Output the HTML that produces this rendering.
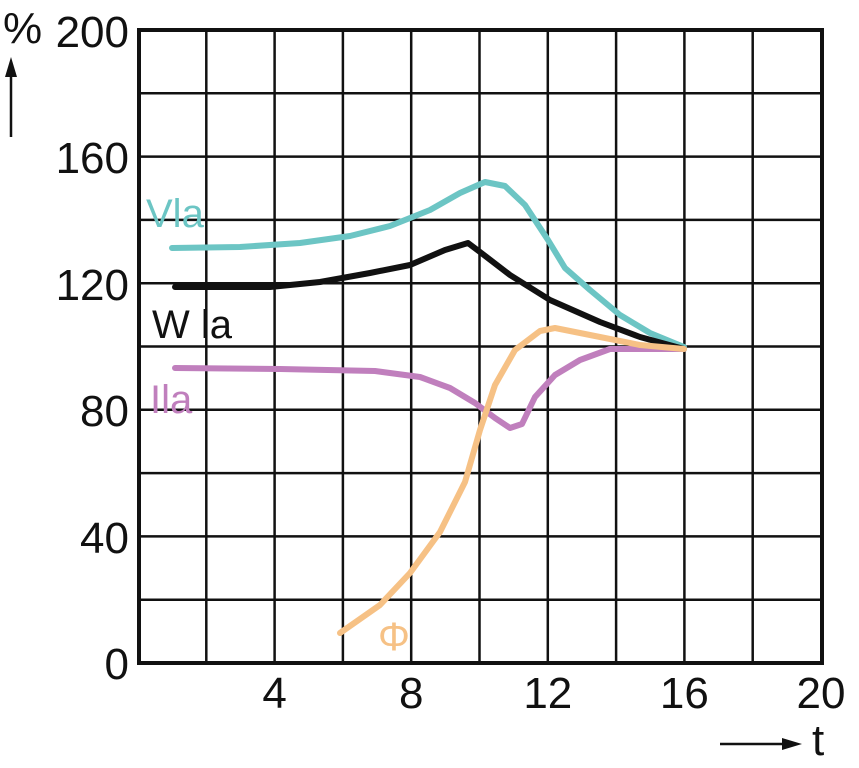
<!DOCTYPE html>
<html><head><meta charset="utf-8"><style>body{margin:0;background:#fff}svg{display:block}text{font-family:"Liberation Sans",sans-serif}</style></head>
<body>
<svg width="859" height="768" viewBox="0 0 859 768">
<g stroke="#111" stroke-width="2.5">
<line x1="206.3" y1="30" x2="206.3" y2="663"/><line x1="274.6" y1="30" x2="274.6" y2="663"/><line x1="342.9" y1="30" x2="342.9" y2="663"/><line x1="411.2" y1="30" x2="411.2" y2="663"/><line x1="479.5" y1="30" x2="479.5" y2="663"/><line x1="547.8" y1="30" x2="547.8" y2="663"/><line x1="616.1" y1="30" x2="616.1" y2="663"/><line x1="684.4" y1="30" x2="684.4" y2="663"/><line x1="752.7" y1="30" x2="752.7" y2="663"/>
<line x1="139" y1="93.3" x2="822" y2="93.3"/><line x1="139" y1="156.6" x2="822" y2="156.6"/><line x1="139" y1="219.9" x2="822" y2="219.9"/><line x1="139" y1="283.2" x2="822" y2="283.2"/><line x1="139" y1="346.5" x2="822" y2="346.5"/><line x1="139" y1="409.8" x2="822" y2="409.8"/><line x1="139" y1="473.1" x2="822" y2="473.1"/><line x1="139" y1="536.4" x2="822" y2="536.4"/><line x1="139" y1="599.7" x2="822" y2="599.7"/>
</g>
<rect x="139" y="30" width="683" height="633" fill="none" stroke="#111" stroke-width="4"/>
<g fill="none" stroke-width="6" stroke-linecap="round" stroke-linejoin="round">
<polyline stroke="#6cc5c4" points="172,248 240,247 300,243 350,236 390,226 430,210 460,193 485,182 505,186 525,205 548,240 565,268 590,290 620,315 650,333 684,347"/>
<polyline stroke="#111" points="175,287 270,287 320,282 370,273 410,265 445,250 468,243 480,252 510,275 550,300 600,322 640,337 684,349"/>
<polyline stroke="#c07fbd" points="175,368 280,369 375,371 420,377 450,388 475,403 495,418 510,428 522,424 535,397 555,375 580,360 610,349 684,349"/>
<polyline stroke="#f6c185" points="340,633 380,605 410,573 440,532 465,482 480,430 495,385 515,350 540,331 555,328 590,335 640,345 684,349"/>
</g>
<g font-size="44" fill="#111">
<text x="129" y="47" text-anchor="end">200</text>
<text x="129" y="173" text-anchor="end">160</text>
<text x="129" y="300" text-anchor="end">120</text>
<text x="129" y="426" text-anchor="end">80</text>
<text x="129" y="553" text-anchor="end">40</text>
<text x="129" y="679" text-anchor="end">0</text>
<text x="274.6" y="708" text-anchor="middle">4</text>
<text x="411.2" y="708" text-anchor="middle">8</text>
<text x="547.8" y="708" text-anchor="middle">12</text>
<text x="684.4" y="708" text-anchor="middle">16</text>
<text x="821" y="708" text-anchor="middle">20</text>
<text x="3" y="43">%</text>
<text x="812" y="755">t</text>
</g>
<line x1="11" y1="137" x2="11" y2="70" stroke="#111" stroke-width="2.5"/>
<polygon points="11,57 5,77 17,77" fill="#111"/>
<line x1="720" y1="744" x2="790" y2="744" stroke="#111" stroke-width="2.5"/>
<polygon points="802,744 782,738 782,750" fill="#111"/>
<g font-size="40">
<text x="146" y="227" fill="#6cc5c4">Vla</text>
<text x="152" y="338" fill="#111">W la</text>
<text x="150" y="413" fill="#c07fbd">Ila</text>
<text x="378" y="650" fill="#f6c185">Φ</text>
</g>
</svg>
</body></html>
